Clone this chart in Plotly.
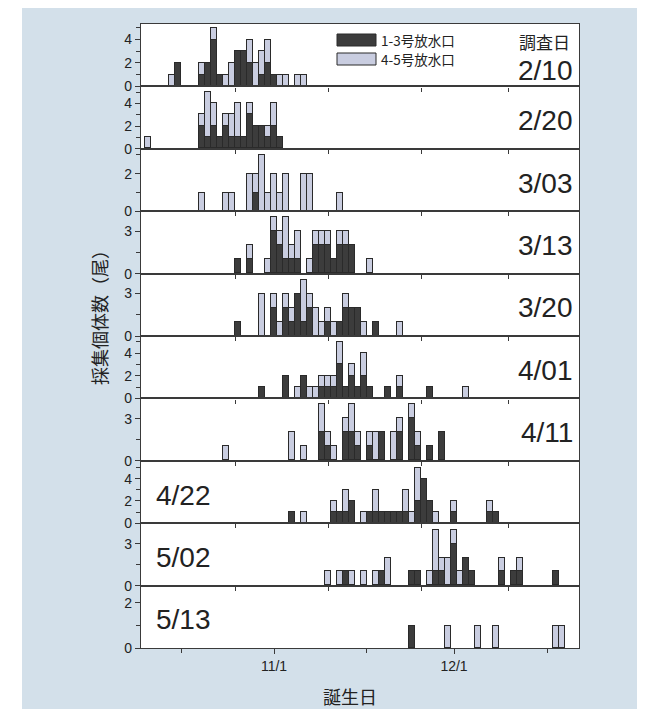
import plotly.graph_objects as go
from plotly.subplots import make_subplots

# ---------------- data ----------------
# birth day as days since Oct 1 (31 = 11/1, 61 = 12/1)
survey_dates = ["2/10", "2/20", "3/03", "3/13", "3/20", "4/01", "4/11", "4/22", "5/02", "5/13"]
series_names = ["1-3号放水口", "4-5号放水口"]

days_0210 = [14, 15, 19, 20, 21, 22, 23, 24, 25, 26, 27, 28, 29, 30, 31, 32, 33, 35, 36]
dark_0210 = [0, 2, 1, 2, 4, 1, 0, 0, 3, 3, 2, 0, 1, 2, 1, 0, 0, 0, 0]
light_0210 = [1, 0, 1, 0, 1, 0, 1, 2, 0, 0, 2, 2, 2, 2, 0, 1, 1, 1, 1]

days_0220 = [10, 19, 20, 21, 22, 23, 24, 25, 26, 27, 28, 29, 30, 31, 32]
dark_0220 = [0, 2, 1, 2, 1, 2, 1, 1, 1, 3, 2, 2, 1, 2, 1]
light_0220 = [1, 1, 4, 2, 0, 1, 2, 3, 0, 1, 0, 0, 1, 2, 0]

days_0303 = [19, 23, 24, 27, 28, 29, 30, 31, 32, 33, 36, 37, 42]
dark_0303 = [0, 0, 0, 0, 1, 0, 0, 0, 0, 0, 0, 0, 0]
light_0303 = [1, 1, 1, 2, 1, 3, 1, 2, 1, 2, 2, 2, 1]

days_0313 = [25, 27, 30, 31, 32, 33, 34, 35, 37, 38, 39, 40, 41, 42, 43, 44, 47]
dark_0313 = [1, 1, 0, 3, 2, 1, 1, 1, 0, 2, 2, 2, 1, 2, 2, 2, 0]
light_0313 = [0, 1, 1, 1, 1, 3, 1, 2, 1, 1, 1, 1, 0, 1, 1, 0, 1]

days_0320 = [25, 29, 31, 32, 33, 34, 35, 36, 37, 38, 39, 40, 41, 42, 43, 44, 45, 46, 48, 52]
dark_0320 = [1, 0, 2, 0, 2, 1, 3, 1, 2, 0, 0, 1, 0, 1, 2, 2, 2, 0, 1, 0]
light_0320 = [0, 3, 1, 1, 1, 1, 0, 3, 1, 2, 1, 1, 1, 0, 1, 0, 0, 1, 0, 1]

days_0401 = [29, 33, 35, 36, 37, 38, 39, 40, 41, 42, 43, 44, 45, 46, 47, 50, 52, 57, 63]
dark_0401 = [1, 2, 0, 2, 0, 0, 1, 1, 1, 3, 1, 2, 1, 2, 1, 1, 1, 1, 0]
light_0401 = [0, 0, 1, 0, 1, 1, 1, 1, 1, 2, 0, 1, 0, 2, 0, 0, 1, 0, 1]

days_0411 = [23, 34, 36, 39, 40, 41, 43, 44, 45, 47, 48, 49, 51, 52, 54, 55, 57, 59]
dark_0411 = [0, 0, 0, 2, 1, 0, 2, 2, 1, 1, 0, 2, 0, 2, 3, 1, 1, 2]
light_0411 = [1, 2, 1, 2, 1, 1, 1, 2, 1, 1, 2, 0, 2, 1, 1, 1, 0, 0]

days_0422 = [34, 36, 41, 42, 43, 44, 46, 47, 48, 49, 50, 51, 52, 53, 54, 55, 56, 57, 58, 61, 67, 68]
dark_0422 = [1, 0, 1, 1, 1, 2, 0, 1, 1, 1, 1, 1, 1, 1, 0, 2, 4, 2, 0, 1, 1, 1]
light_0422 = [0, 1, 1, 0, 2, 0, 1, 0, 2, 0, 0, 0, 0, 2, 1, 3, 0, 0, 1, 1, 1, 0]

days_0502 = [40, 42, 43, 44, 46, 48, 49, 50, 54, 55, 57, 58, 59, 60, 61, 62, 63, 64, 69, 71, 72, 78]
dark_0502 = [0, 0, 1, 0, 0, 0, 1, 0, 1, 1, 0, 1, 1, 0, 3, 0, 2, 1, 1, 1, 1, 1]
light_0502 = [1, 1, 0, 1, 1, 1, 0, 2, 0, 0, 1, 3, 1, 2, 1, 1, 0, 0, 1, 0, 1, 0]

days_0513 = [54, 60, 65, 68, 78, 79]
dark_0513 = [1, 0, 0, 0, 0, 0]
light_0513 = [0, 1, 1, 1, 1, 1]

y_max = [5.33, 5.5, 3.33, 4.4, 4.4, 5.5, 4.44, 5.6, 4.48, 2.77]
y_major = [[0, 2, 4], [0, 2, 4], [0, 2], [0, 3], [0, 3], [0, 2, 4], [0, 3], [0, 2, 4], [0, 3], [0, 2]]
y_minor = [[1, 3, 5], [1, 3, 5], [1, 3], [1.5], [1.5], [1, 3, 5], [1.5], [1, 3, 5], [1.5], [1]]

x_tick_vals = [31, 61]
x_tick_text = ["11/1", "12/1"]
x_minor_bottom = [15.5, 46.4, 76.5]
x_ticks_upper = [24.5, 40, 55.5, 70]

panels = [
    (days_0210, dark_0210, light_0210), (days_0220, dark_0220, light_0220),
    (days_0303, dark_0303, light_0303), (days_0313, dark_0313, light_0313),
    (days_0320, dark_0320, light_0320), (days_0401, dark_0401, light_0401),
    (days_0411, dark_0411, light_0411), (days_0422, dark_0422, light_0422),
    (days_0502, dark_0502, light_0502), (days_0513, dark_0513, light_0513),
]

# ---------------- layout geometry ----------------
W, H = 645, 709
L, R, T, B = 133, 571, 16, 640
PW, PH = R - L, B - T
X_RANGE = [8.83, 81.83]

def px(x):
    return (x - L) / PW

def py(y):
    return (B - y) / PH

DARK = "#3c3c3c"
LIGHT = "#c9cde0"
EDGE = "#2a2a2a"
AXIS = "#3a3a3a"
BG = "#d3e0ea"
TXT = "#222222"
NUM_FONT = "Liberation Sans, Arial, sans-serif"
CJK_FONT = "Noto Sans CJK JP, sans-serif"

n = len(panels)
fig = make_subplots(rows=n, cols=1, shared_xaxes=True, vertical_spacing=0)

for i, (d, a, b) in enumerate(panels):
    r = i + 1
    fig.add_trace(go.Bar(x=d, y=a, name=series_names[0], width=0.95,
                         marker=dict(color=DARK, line=dict(color=EDGE, width=1)),
                         showlegend=False), row=r, col=1)
    fig.add_trace(go.Bar(x=d, y=b, name=series_names[1], width=0.95,
                         marker=dict(color=LIGHT, line=dict(color=EDGE, width=1)),
                         showlegend=False), row=r, col=1)
    fig.update_yaxes(range=[0, y_max[i]], tickvals=y_major[i], ticktext=[str(v) for v in y_major[i]],
                     ticks="outside", ticklen=5, tickwidth=1, tickcolor=AXIS,
                     minor=dict(tickvals=y_minor[i], ticks="outside", ticklen=4, tickcolor=AXIS, tickwidth=1),
                     showline=True, linecolor=AXIS, linewidth=1.2, mirror=True,
                     showgrid=False, zeroline=False,
                     tickfont=dict(family=NUM_FONT, size=14, color=TXT),
                     row=r, col=1)
    if r < n:
        fig.update_xaxes(range=X_RANGE, tickvals=x_ticks_upper, showticklabels=False,
                         ticks="outside", ticklen=4, tickcolor=AXIS, tickwidth=1,
                         showline=True, linecolor=AXIS, linewidth=1.2, mirror=True,
                         showgrid=False, zeroline=False, row=r, col=1)
    else:
        fig.update_xaxes(range=X_RANGE, tickvals=x_tick_vals, ticktext=x_tick_text, showticklabels=True,
                         ticks="outside", ticklen=5, tickcolor=AXIS, tickwidth=1,
                         minor=dict(tickvals=x_minor_bottom, ticks="outside", ticklen=4, tickcolor=AXIS, tickwidth=1),
                         showline=True, linecolor=AXIS, linewidth=1.2, mirror=True,
                         showgrid=False, zeroline=False,
                         tickfont=dict(family=NUM_FONT, size=14, color=TXT),
                         row=r, col=1)

annotations = []
panel_h = PH / n
for i, lab in enumerate(survey_dates):
    yc = T + panel_h * (i + 0.5) + 3
    if i == 0:
        yc = 63
    if i < 7:
        annotations.append(dict(x=px(567), y=py(yc), xref="paper", yref="paper", text=lab,
                                xanchor="right", yanchor="middle", showarrow=False,
                                font=dict(family=NUM_FONT, size=28, color=TXT)))
    else:
        annotations.append(dict(x=px(146), y=py(yc), xref="paper", yref="paper", text=lab,
                                xanchor="left", yanchor="middle", showarrow=False,
                                font=dict(family=NUM_FONT, size=28, color=TXT)))

annotations.append(dict(x=px(536), y=py(33), xref="paper", yref="paper", text="調査日",
                        xanchor="center", yanchor="middle", showarrow=False,
                        font=dict(family=CJK_FONT, size=17, color=TXT)))
# legend (manual)
shapes = []
leg_rows = [(32, DARK, series_names[0]), (51, LIGHT, series_names[1])]
for yc, col, name in leg_rows:
    shapes.append(dict(type="rect", xref="paper", yref="paper",
                       x0=px(329), x1=px(368), y0=py(yc - 6), y1=py(yc + 6),
                       fillcolor=col, line=dict(color=EDGE, width=1)))
    annotations.append(dict(x=px(371), y=py(yc), xref="paper", yref="paper", text=name,
                            xanchor="left", yanchor="middle", showarrow=False,
                            font=dict(family=CJK_FONT, size=13.5, color=TXT)))

annotations.append(dict(x=px(91), y=py(305), xref="paper", yref="paper", text="採集個体数（尾）",
                        textangle=-90, xanchor="center", yanchor="middle", showarrow=False,
                        font=dict(family=CJK_FONT, size=18, color=TXT)))
annotations.append(dict(x=px(342), y=py(688), xref="paper", yref="paper", text="誕生日",
                        xanchor="center", yanchor="middle", showarrow=False,
                        font=dict(family=CJK_FONT, size=18, color=TXT)))

# white margins around the blue panel
for (x0, x1, y0, y1) in [(0, 14, 0, H), (633, W, 0, H), (0, W, 707, H)]:
    shapes.append(dict(type="rect", xref="paper", yref="paper", layer="below",
                       x0=px(x0), x1=px(x1), y0=py(y1), y1=py(y0),
                       fillcolor="white", line=dict(width=0)))

fig.update_layout(
    width=W, height=H,
    margin=dict(l=L, r=W - R, t=T, b=H - B),
    paper_bgcolor=BG, plot_bgcolor="white",
    barmode="stack", bargap=0,
    showlegend=False,
    annotations=annotations, shapes=shapes,
)

fig.write_html("out.html")
